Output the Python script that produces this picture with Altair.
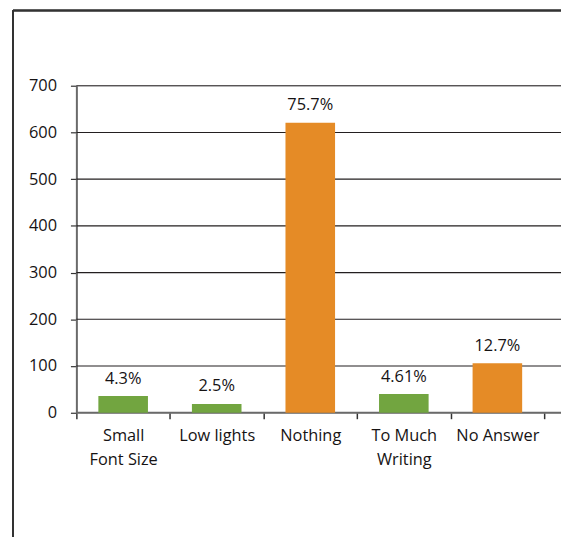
import altair as alt
import pandas as pd

categories = ["Small Font Size", "Low lights", "Nothing", "To Much Writing", "No Answer"]
counts = [36, 19, 621, 40, 106]
pct_labels = ["4.3%", "2.5%", "75.7%", "4.61%", "12.7%"]
bar_colors = ["#72A540", "#72A540", "#E58B26", "#72A540", "#E58B26"]
axis_lines = {
    "Small Font Size": ["Small", "Font Size"],
    "Low lights": ["Low lights"],
    "Nothing": ["Nothing"],
    "To Much Writing": ["To Much", "Writing"],
    "No Answer": ["No Answer"],
}
y_ticks = [0, 100, 200, 300, 400, 500, 600, 700]

df = pd.DataFrame({"cat": categories, "n": counts, "pct": pct_labels, "color": bar_colors})
grid_df = pd.DataFrame({"v": y_ticks})

W, H = 489, 330
FONT = "Open Sans"
TXT = "#161314"

label_expr = " : ".join(
    [f"datum.value == '{k}' ? {v!r}" for k, v in axis_lines.items()] + ["datum.label"]
)

x = alt.X(
    "cat:N",
    sort=categories,
    scale=alt.Scale(range=[0, 472], paddingInner=0, paddingOuter=0),
    axis=alt.Axis(
        title=None, domain=False, grid=False, tickBand="extent", tickSize=6, tickColor="#333333",
        tickWidth=1.5, labelAngle=0, labelFont=FONT, labelFontSize=16.5, labelColor=TXT,
        labelPadding=9, labelBaseline="top", labelLineHeight=24, labelExpr=label_expr,
    ),
)
yscale = alt.Scale(domain=[0, 700], nice=False)
y = alt.Y(
    "n:Q",
    scale=yscale,
    axis=alt.Axis(
        title=None, values=y_ticks, grid=False,
        domainColor="#6A6A6A", domainWidth=2, tickColor="#333333", tickSize=6, tickWidth=1.2,
        labelFont=FONT, labelFontSize=16.5, labelColor=TXT, labelPadding=14,
    ),
)

grid = alt.Chart(grid_df).mark_rule().encode(
    y=alt.Y("v:Q", scale=yscale),
    x=alt.value(0), x2=alt.value(W),
    color=alt.condition("datum.v == 0", alt.value("#6A6A6A"), alt.value("#231F20")),
    strokeWidth=alt.condition("datum.v == 0", alt.value(2.2), alt.value(1.1)),
)

base = alt.Chart(df)
bars = base.mark_bar(width=alt.RelativeBandSize(0.53)).encode(
    x=x, y=y, color=alt.Color("color:N", scale=None)
)
text = base.mark_text(
    font=FONT, fontSize=16.5, color=TXT, baseline="alphabetic", dy=-12.5
).encode(x=x, y=y, text="pct:N")

frame_left = alt.Chart(df).mark_rule(color="#333333", strokeWidth=1.5).encode(
    x=alt.value(-64), y=alt.value(-76), y2=alt.value(H + 160)
)
frame_top = alt.Chart(df).mark_rule(color="#333333", strokeWidth=1.5).encode(
    x=alt.value(-64), x2=alt.value(W + 20), y=alt.value(-76)
)

chart = alt.layer(grid, bars, text, frame_left, frame_top).properties(
    width=W, height=H,
    autosize=alt.AutoSizeParams(type="none"),
    padding={"left": 69, "top": 76, "right": 0, "bottom": 130},
).configure_view(stroke=None).configure(background="white")

chart.save("out.html", embed_options={"renderer": "svg", "actions": False})
